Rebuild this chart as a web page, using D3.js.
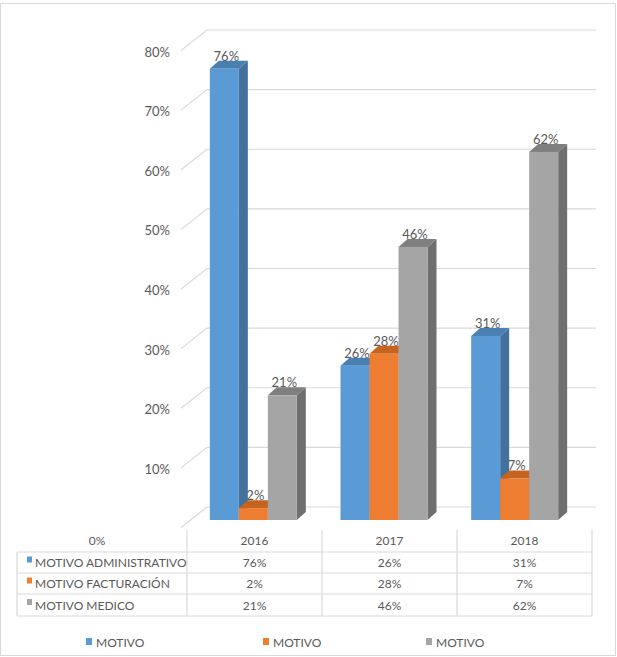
<!DOCTYPE html>
<html>
<head>
<meta charset="utf-8">
<script src="https://cdn.jsdelivr.net/npm/d3@7"></script>
<style>
  html, body { margin: 0; padding: 0; background: #fff; }
  svg { display: block; }
  text { font-family: Lato, "Open Sans", sans-serif; fill: #595959; }
</style>
</head>
<body>
<svg id="chart" width="617" height="657"></svg>
<script>
// ---- data ----
const categories = ["2016", "2017", "2018"];
const seriesNames = ["MOTIVO ADMINISTRATIVO", "MOTIVO FACTURACIÓN", "MOTIVO MEDICO"];
const legendNames = ["MOTIVO", "MOTIVO", "MOTIVO"];
const administrativo = [0.76, 0.26, 0.31];
const facturacion = [0.02, 0.28, 0.07];
const medico = [0.21, 0.46, 0.62];
const tickValues = [0, 0.1, 0.2, 0.3, 0.4, 0.5, 0.6, 0.7, 0.8];
const tickLabels = ["0%", "10%", "20%", "30%", "40%", "50%", "60%", "70%", "80%"];
const valueLabels = [["76%", "26%", "31%"], ["2%", "28%", "7%"], ["21%", "46%", "62%"]];

const seriesValues = [administrativo, facturacion, medico];
const colors = [
  { front: "#5B9BD5", side: "#41719C", top: "#4A7FB2" },
  { front: "#ED7D31", side: "#AE5A21", top: "#C5641F" },
  { front: "#A5A5A5", side: "#6F6F6F", top: "#7F7F7F" }
];

const svg = d3.select("#chart");
const fs = 13;   // axis & data labels
const tfs = 12;  // table & legend

// outer border
svg.append("rect").attr("x", 0.5).attr("y", 3.5).attr("width", 615).attr("height", 652)
  .attr("fill", "none").attr("stroke", "#D9D9D9");

// scales
const yBack = d3.scaleLinear().domain([0, 0.8]).range([507, 30]);   // back wall
const yFront = d3.scaleLinear().domain([0, 0.8]).range([520, 45]);  // bar fronts
const x0 = d3.scaleBand().domain(categories).range([188, 580]);
const barW = 29;
const x1 = d3.scaleBand().domain(d3.range(3))
  .range([x0.bandwidth() / 2 - 1.5 * barW, x0.bandwidth() / 2 + 1.5 * barW]);
const depthX = 9, depthY = 8;
const wallLeft = 207, wallRight = 596, sideDX = 26, sideDY = 20.5;

// gridlines (back wall + side wall diagonal)
const grid = svg.append("g").attr("stroke", "#D9D9D9").attr("stroke-width", 1.2).attr("fill", "none");
tickValues.forEach(v => {
  const yb = yBack(v);
  grid.append("path").attr("d",
    `M${wallLeft - sideDX},${yb + sideDY} L${wallLeft},${yb} L${wallRight},${yb}`);
});

// y tick labels
tickValues.forEach((v, i) => {
  if (v === 0) return; // 0% sits in table header cell
  svg.append("text").attr("x", 170).attr("y", yBack(v) + sideDY + 1.5 + fs * 0.35)
    .attr("text-anchor", "end").attr("font-size", fs).text(tickLabels[i]);
});

// data labels (drawn behind bars)
seriesValues.forEach((vals, s) => {
  vals.forEach((v, c) => {
    const bx = x0(categories[c]) + x1(s);
    svg.append("text").attr("x", bx + barW / 2 + 2).attr("y", yFront(v) - 8)
      .attr("text-anchor", "middle").attr("font-size", fs).text(valueLabels[s][c]);
  });
});

// bars
categories.forEach((cat, c) => {
  seriesValues.forEach((vals, s) => {
    const v = vals[c];
    const xa = x0(cat) + x1(s), xb = xa + barW;
    const yt = yFront(v), yb = yFront(0);
    const g = svg.append("g");
    g.append("path").attr("fill", colors[s].side).attr("d",
      `M${xb},${yt} L${xb + depthX},${yt - depthY} L${xb + depthX},${yb - depthY} L${xb},${yb} Z`);
    g.append("path").attr("fill", colors[s].top).attr("d",
      `M${xa},${yt} L${xb},${yt} L${xb + depthX},${yt - depthY} L${xa + depthX},${yt - depthY} Z`);
    g.append("rect").attr("x", xa).attr("y", yt).attr("width", barW).attr("height", yb - yt)
      .attr("fill", colors[s].front);
  });
});

// data table
const tableLeft = 17, labelColRight = 187, colW = 135;
const rowLines = [552, 573, 594, 616];
const tableTop = 530;
const tg = svg.append("g").attr("stroke", "#D9D9D9").attr("stroke-width", 1.2);
rowLines.forEach(y => tg.append("line").attr("x1", tableLeft).attr("x2", labelColRight + 3 * colW)
  .attr("y1", y).attr("y2", y));
tg.append("line").attr("x1", tableLeft).attr("x2", tableLeft).attr("y1", rowLines[0]).attr("y2", rowLines[3]);
d3.range(4).forEach(i => {
  const x = labelColRight + i * colW;
  tg.append("line").attr("x1", x).attr("x2", x).attr("y1", tableTop).attr("y2", rowLines[3]);
});

// header
svg.append("text").attr("x", 97).attr("y", 541 + tfs * 0.35).attr("text-anchor", "middle")
  .attr("font-size", tfs).text(tickLabels[0]);
categories.forEach((cat, c) => {
  svg.append("text").attr("x", labelColRight + c * colW + colW / 2).attr("y", 541 + tfs * 0.35)
    .attr("text-anchor", "middle").attr("font-size", tfs).text(cat);
});
// rows
seriesNames.forEach((name, s) => {
  const yc = (rowLines[s] + rowLines[s + 1]) / 2;
  svg.append("rect").attr("x", 27).attr("y", yc - 6).attr("width", 5).attr("height", 6)
    .attr("fill", colors[s].front);
  svg.append("text").attr("x", 35).attr("y", yc + tfs * 0.38).attr("font-size", tfs).text(name);
  categories.forEach((cat, c) => {
    svg.append("text").attr("x", labelColRight + c * colW + colW / 2).attr("y", yc + tfs * 0.38)
      .attr("text-anchor", "middle").attr("font-size", tfs).text(valueLabels[s][c]);
  });
});

// legend
const legendX = [86, 263, 426];
legendNames.forEach((name, s) => {
  svg.append("rect").attr("x", legendX[s]).attr("y", 638).attr("width", 6).attr("height", 7)
    .attr("fill", colors[s].front);
  svg.append("text").attr("x", legendX[s] + 10).attr("y", 642 + tfs * 0.38).attr("font-size", tfs).text(name);
});
</script>
</body>
</html>
